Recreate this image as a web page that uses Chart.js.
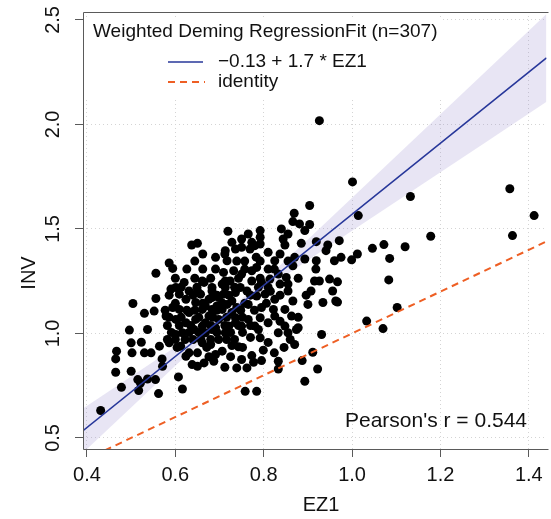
<!DOCTYPE html>
<html>
<head>
<meta charset="utf-8">
<script src="https://cdn.jsdelivr.net/npm/chart.js@4.4.1/dist/chart.umd.min.js"></script>
<style>
  html, body { margin: 0; padding: 0; background: #fff; }
  #wrap { width: 551px; height: 519px; }
  canvas { display: block; }
</style>
</head>
<body>
<div id="wrap"><canvas id="grafico" width="551" height="519"></canvas></div>
<script>
// Deming fit EZ1 vs INV.

var ez1 = [
  0.926, 1.001, 1.132, 1.357, 1.412, 1.363, 1.178, 1.014, 0.904, 0.869,
  0.866, 0.881, 0.904, 0.893, 0.840, 0.855, 0.844, 0.885, 0.919, 0.945,
  0.971, 1.046, 1.072, 1.120, 0.975, 0.999, 1.012, 1.085, 0.967, 0.967,
  1.083, 1.102, 1.033, 1.070, 0.931, 0.870, 0.911, 0.887, 0.922, 0.893,
  0.833, 0.833, 0.824, 0.799, 0.795, 0.773, 0.777, 0.750, 0.762, 0.739,
  0.712, 0.706, 0.687, 0.665, 0.758, 0.784, 0.728, 0.743, 0.833, 0.855,
  0.874, 0.788, 0.792, 0.431, 0.478, 0.517, 0.521, 0.537, 0.555, 0.562,
  0.515, 0.465, 0.500, 0.465, 0.467, 0.502, 0.500, 0.496, 0.537, 0.523,
  0.530, 0.545, 0.564, 0.570, 0.571, 0.607, 0.616, 0.586, 0.601, 0.612,
  0.624, 0.638, 0.650, 0.631, 0.650, 0.661, 0.680, 0.691, 0.719, 0.650,
  0.637, 0.728, 0.713, 0.691, 0.717, 0.586, 0.594, 0.556, 0.691, 0.709,
  0.732, 0.713, 0.661, 0.620, 0.601, 0.590, 0.504, 0.556, 0.530, 0.552,
  0.579, 0.594, 0.609, 0.631, 0.650, 0.683, 0.713, 0.624, 0.646, 0.676,
  0.698, 0.728, 0.609, 0.631, 0.661, 0.683, 0.706, 0.728, 0.601, 0.624,
  0.646, 0.668, 0.698, 0.721, 0.616, 0.642, 0.683, 0.713, 0.736, 0.668,
  0.765, 0.792, 0.773, 0.792, 0.848, 0.736, 0.750, 0.769, 0.792, 0.810,
  0.825, 0.870, 0.866, 0.893, 0.941, 0.919, 0.960, 0.750, 0.773, 0.784,
  0.810, 0.833, 0.851, 0.855, 0.837, 0.814, 0.795, 0.773, 0.747, 0.724,
  0.706, 0.683, 0.665, 0.657, 0.683, 0.709, 0.736, 0.762, 0.784, 0.803,
  0.825, 0.855, 0.866, 0.915, 0.926, 0.949, 0.907, 0.956, 0.900, 0.934,
  0.963, 0.668, 0.694, 0.717, 0.739, 0.765, 0.795, 0.822, 0.848, 0.863,
  0.825, 0.792, 0.765, 0.736, 0.676, 0.661, 0.691, 0.750, 0.780, 0.810,
  0.848, 0.878, 0.750, 0.780,
  // núcleo denso
  0.582, 0.600, 0.622, 0.640, 0.658, 0.680, 0.698, 0.716, 0.734,
  0.591, 0.631, 0.653, 0.694, 0.725, 0.752,
  0.582, 0.609, 0.635, 0.680, 0.712, 0.743, 0.770,
  0.586, 0.613, 0.653, 0.685, 0.716, 0.752,
  0.577, 0.626, 0.644, 0.694, 0.748, 0.779,
  0.600, 0.662, 0.707, 0.757, 0.806,
  0.586, 0.640, 0.694, 0.721, 0.770, 0.837,
  0.613, 0.649, 0.734, 0.788, 0.810,
  0.600, 0.644, 0.680, 0.743, 0.792, 0.878,
  0.626, 0.662, 0.757, 0.824,
  0.644, 0.739, 0.792, 0.855,
  0.662, 0.712, 0.837,
  0.604, 0.671, 0.752, 0.846,
  0.676, 0.725,
  0.810, 0.770, 0.860, 0.878, 0.837, 0.815, 0.918, 0.896, 0.783, 0.757
];
var inv = [
  2.018, 1.725, 1.655, 1.692, 1.564, 1.468, 1.465, 1.564, 1.612, 1.575,
  1.535, 1.524, 1.521, 1.492, 1.500, 1.476, 1.452, 1.431, 1.439, 1.423,
  1.444, 1.407, 1.425, 1.415, 1.364, 1.352, 1.380, 1.359, 1.247, 1.150,
  1.256, 1.124, 1.059, 1.023, 0.995, 0.947, 0.910, 0.870, 0.830, 0.771,
  0.867, 0.830, 0.907, 0.920, 0.870, 0.894, 0.862, 0.875, 0.835, 0.835,
  0.838, 0.915, 0.867, 0.859, 0.723, 0.723, 0.942, 0.936, 1.003, 1.003,
  1.019, 1.019, 0.979, 0.631, 0.742, 0.727, 0.763, 0.782, 0.779, 0.712,
  0.779, 0.814, 0.819, 0.878, 0.915, 0.907, 0.955, 1.016, 1.019, 0.958,
  0.907, 0.907, 0.939, 0.878, 0.843, 0.792, 0.734, 0.955, 0.995, 0.939,
  0.891, 0.851, 0.843, 0.907, 0.907, 0.955, 0.947, 0.899, 1.489, 1.431,
  1.423, 1.436, 1.396, 1.364, 1.348, 1.337, 1.311, 1.288, 1.308, 1.292,
  1.300, 1.251, 1.251, 1.244, 1.220, 1.212, 1.143, 1.167, 1.096, 1.107,
  1.083, 1.124, 1.188, 1.203, 1.203, 1.203, 1.220, 1.163, 1.148, 1.163,
  1.172, 1.155, 1.115, 1.100, 1.115, 1.115, 1.115, 1.100, 1.067, 1.051,
  1.067, 1.051, 1.067, 1.035, 1.003, 1.019, 1.019, 1.003, 1.051, 1.003,
  1.476, 1.492, 1.436, 1.460, 1.423, 1.404, 1.412, 1.404, 1.428, 1.388,
  1.348, 1.364, 1.324, 1.356, 1.396, 1.348, 1.348, 1.284, 1.300, 1.316,
  1.308, 1.284, 1.268, 1.236, 1.236, 1.260, 1.244, 1.251, 1.220, 1.251,
  1.236, 1.220, 1.244, 1.188, 1.172, 1.188, 1.196, 1.203, 1.179, 1.188,
  1.163, 1.203, 1.155, 1.251, 1.251, 1.260, 1.203, 1.203, 1.139, 1.148,
  1.155, 1.131, 1.131, 1.139, 1.124, 1.139, 1.124, 1.115, 1.115, 1.083,
  1.083, 1.075, 1.067, 1.075, 1.083, 1.035, 1.027, 1.035, 1.035, 1.051,
  1.035, 1.027, 1.452, 1.420,
  // núcleo denso
  0.971, 0.971, 0.971, 0.971, 0.971, 0.971, 0.971, 0.971, 0.971,
  1.005, 1.005, 1.005, 1.005, 1.005, 1.005,
  1.038, 1.038, 1.038, 1.038, 1.038, 1.038, 1.038,
  1.077, 1.077, 1.077, 1.077, 1.077, 1.077,
  1.111, 1.111, 1.111, 1.111, 1.111, 1.111,
  1.144, 1.144, 1.144, 1.144, 1.144,
  1.183, 1.183, 1.183, 1.183, 1.183, 1.183,
  1.221, 1.221, 1.221, 1.221, 1.221,
  1.264, 1.264, 1.264, 1.264, 1.264, 1.264,
  1.308, 1.308, 1.308, 1.308,
  1.346, 1.346, 1.346, 1.346,
  1.380, 1.380, 1.380,
  0.933, 0.933, 0.933, 0.933,
  0.889, 0.889,
  0.957, 0.981, 0.971, 1.077, 1.058, 1.202, 1.308, 1.183, 1.365, 1.346
];

var ajusteIntercepto = -0.13;
var ajustePendiente = 1.7;

// banda de confianza (bordes leídos a ojo)
var bandaX   = [0.39,  0.5,   0.6,   0.7,   0.8,   0.9,   1.0,   1.1,   1.2,   1.3,   1.44];
var bandaSup = [0.639, 0.794, 0.935, 1.079, 1.253, 1.450, 1.649, 1.849, 2.049, 2.249, 2.528];
var bandaInf = [0.427, 0.646, 0.845, 1.041, 1.207, 1.350, 1.491, 1.631, 1.771, 1.911, 2.108];

var ticksX = [0.4, 0.6, 0.8, 1.0, 1.2, 1.4];
var ticksY = [0.5, 1.0, 1.5, 2.0, 2.5];
var rangoX = [0.391, 1.44];
var rangoY = [0.447, 2.538];

var textoLeyenda = 'Weighted Deming RegressionFit (n=307)';
var textoAjuste = '\u22120.13 + 1.7 * EZ1';
var textoIdentidad = 'identity';
var textoPearson = "Pearson's r = 0.544";

var fuente = '"Liberation Sans", Arial, Helvetica, sans-serif';
var colores = {
  azul: '#27379a', naranja: '#ee5f24', banda: 'rgba(150, 138, 205, 0.22)',
  grid: '#d4d4d4', marco: '#5a5a5a', texto: '#111'
};

var puntos = ez1.map(function (x, i) { return { x: x, y: inv[i] }; });
var lineaAjuste = rangoX.map(function (x) { return { x: x, y: ajusteIntercepto + ajustePendiente * x }; });
var lineaIdentidad = rangoX.map(function (x) { return { x: x, y: x }; });
var bordeSup = bandaX.map(function (x, i) { return { x: x, y: bandaSup[i] }; });
var bordeInf = bandaX.map(function (x, i) { return { x: x, y: bandaInf[i] }; });

var extras = {
  id: 'extras',
  afterDraw: function (chart) {
    var ctx = chart.ctx;
    var a = chart.chartArea;
    var ys = chart.scales.y;
    ctx.save();

    // marco (arriba, izquierda, abajo)
    ctx.strokeStyle = colores.marco;
    ctx.lineWidth = 1;
    ctx.beginPath();
    ctx.moveTo(a.right + 2, a.top + 0.5);
    ctx.lineTo(a.left + 0.5, a.top + 0.5);
    ctx.lineTo(a.left + 0.5, a.bottom + 0.5);
    ctx.lineTo(a.right + 2, a.bottom + 0.5);
    ctx.stroke();

    // etiquetas del eje y, giradas como en R
    ctx.fillStyle = colores.texto;
    ctx.font = '20px ' + fuente;
    ctx.textAlign = 'center';
    ctx.textBaseline = 'middle';
    ticksY.forEach(function (v) {
      ctx.save();
      ctx.translate(53, ys.getPixelForValue(v));
      ctx.rotate(-Math.PI / 2);
      ctx.fillText(v.toFixed(1), 0, 0);
      ctx.restore();
    });

    // títulos de ejes
    ctx.save();
    ctx.translate(29, 273);
    ctx.rotate(-Math.PI / 2);
    ctx.fillText('INV', 0, 0);
    ctx.restore();
    ctx.fillText('EZ1', 321, 505);

    // leyenda
    ctx.fillStyle = '#fff';
    ctx.fillRect(a.left + 1, 19, 357, 78);
    ctx.fillStyle = colores.texto;
    ctx.font = '19px ' + fuente;
    ctx.textAlign = 'left';
    ctx.fillText(textoLeyenda, 93, 32);
    ctx.fillText(textoAjuste, 218, 62);
    ctx.fillText(textoIdentidad, 218, 82);
    ctx.strokeStyle = colores.azul;
    ctx.lineWidth = 1.6;
    ctx.beginPath(); ctx.moveTo(168, 62); ctx.lineTo(203, 62); ctx.stroke();
    ctx.strokeStyle = colores.naranja;
    ctx.lineWidth = 2;
    ctx.setLineDash([7, 5]);
    ctx.beginPath(); ctx.moveTo(168, 82); ctx.lineTo(205, 82); ctx.stroke();
    ctx.setLineDash([]);

    // correlación
    ctx.font = '21px ' + fuente;
    ctx.textAlign = 'right';
    ctx.fillText(textoPearson, 527, 421);
    ctx.restore();
  }
};

new Chart(document.getElementById('grafico').getContext('2d'), {
  type: 'scatter',
  data: {
    datasets: [
      { type: 'line', data: lineaAjuste, borderColor: colores.azul, borderWidth: 1.6, pointRadius: 0, order: 0 },
      { type: 'line', data: lineaIdentidad, borderColor: colores.naranja, borderWidth: 2, borderDash: [7, 5], pointRadius: 0, order: 0 },
      { data: puntos, backgroundColor: '#000', borderWidth: 0, pointRadius: 4.5, order: 1 },
      { type: 'line', data: bordeSup, borderWidth: 0, pointRadius: 0, fill: '+1', backgroundColor: colores.banda, order: 2 },
      { type: 'line', data: bordeInf, borderWidth: 0, pointRadius: 0, fill: false, order: 3 }
    ]
  },
  options: {
    responsive: false,
    animation: false,
    layout: { padding: { top: 12, right: 0, left: 0, bottom: 0 } },
    plugins: { legend: { display: false }, tooltip: { enabled: false } },
    scales: {
      x: {
        type: 'linear', min: rangoX[0], max: rangoX[1],
        afterBuildTicks: function (s) { s.ticks = ticksX.map(function (v) { return { value: v }; }); },
        afterFit: function (s) { s.height = 70; },
        grid: { color: colores.grid, lineWidth: 1, tickLength: 8, tickColor: colores.marco, tickBorderDash: [] },
        border: { display: false, dash: [1, 3] },
        ticks: { color: colores.texto, padding: 6, maxRotation: 0, font: { size: 20, family: fuente },
          callback: function (v) { return Number(v).toFixed(1); } }
      },
      y: {
        type: 'linear', min: rangoY[0], max: rangoY[1],
        afterBuildTicks: function (s) { s.ticks = ticksY.map(function (v) { return { value: v }; }); },
        afterFit: function (s) { s.width = 83; },
        grid: { color: colores.grid, lineWidth: 1, tickLength: 8, tickColor: colores.marco, tickBorderDash: [] },
        border: { display: false, dash: [1, 3] },
        ticks: { display: false }
      }
    }
  },
  plugins: [extras]
});
</script>
</body>
</html>
